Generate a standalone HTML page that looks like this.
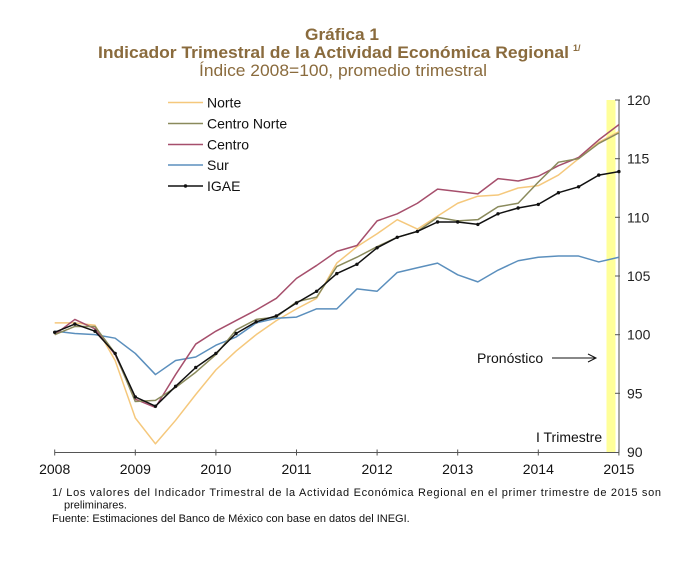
<!DOCTYPE html>
<html>
<head>
<meta charset="utf-8">
<style>
html,body{margin:0;padding:0;background:#fff;}
body{width:700px;height:576px;overflow:hidden;}
svg{display:block;}
</style>
</head>
<body>
<svg width="700" height="576" viewBox="0 0 700 576" xmlns="http://www.w3.org/2000/svg" font-family="'Liberation Sans', Arial, sans-serif">
  <rect width="700" height="576" fill="#fff"/>

  <!-- Titles -->
  <text x="342" y="40" text-anchor="middle" font-size="16.5" font-weight="bold" fill="#8a6b3d" textLength="74" lengthAdjust="spacingAndGlyphs">Gráfica 1</text>
  <text x="98" y="58" font-size="16.5" font-weight="bold" fill="#8a6b3d" textLength="471" lengthAdjust="spacingAndGlyphs">Indicador Trimestral de la Actividad Económica Regional</text>
  <text x="573" y="51" font-size="9" font-weight="bold" fill="#8a6b3d">1/</text>
  <text x="199" y="76" font-size="16.5" fill="#8a6b3d" textLength="288" lengthAdjust="spacingAndGlyphs">Índice 2008=100, promedio trimestral</text>

  <!-- Forecast band -->
  <rect x="606.5" y="100" width="9" height="352" fill="#ffff99"/>

  <!-- Right axis -->
  <line x1="619" y1="100" x2="619" y2="452.5" stroke="#555" stroke-width="1"/>
  <g stroke="#555" stroke-width="1">
    <line x1="615" y1="100" x2="620" y2="100"/>
    <line x1="615" y1="158.7" x2="620" y2="158.7"/>
    <line x1="615" y1="217.3" x2="620" y2="217.3"/>
    <line x1="615" y1="276" x2="620" y2="276"/>
    <line x1="615" y1="334.7" x2="620" y2="334.7"/>
    <line x1="615" y1="393.3" x2="620" y2="393.3"/>
  </g>
  <g font-size="14" fill="#222">
    <text x="627" y="105">120</text>
    <text x="627" y="163.7">115</text>
    <text x="627" y="222.3">110</text>
    <text x="627" y="281">105</text>
    <text x="627" y="339.7">100</text>
    <text x="627" y="398.3">95</text>
    <text x="627" y="457">90</text>
  </g>

  <!-- X axis -->
  <line x1="54.5" y1="452.5" x2="619" y2="452.5" stroke="#555" stroke-width="1"/>
  <g stroke="#555" stroke-width="1">
    <line x1="54.7" y1="449.5" x2="54.7" y2="455.5"/>
    <line x1="135.3" y1="449.5" x2="135.3" y2="455.5"/>
    <line x1="215.9" y1="449.5" x2="215.9" y2="455.5"/>
    <line x1="296.5" y1="449.5" x2="296.5" y2="455.5"/>
    <line x1="377.1" y1="449.5" x2="377.1" y2="455.5"/>
    <line x1="457.7" y1="449.5" x2="457.7" y2="455.5"/>
    <line x1="538.3" y1="449.5" x2="538.3" y2="455.5"/>
    <line x1="618.9" y1="449.5" x2="618.9" y2="455.5"/>
  </g>
  <g font-size="14" fill="#111" text-anchor="middle">
    <text x="54.7" y="474">2008</text>
    <text x="135.3" y="474">2009</text>
    <text x="215.9" y="474">2010</text>
    <text x="296.5" y="474">2011</text>
    <text x="377.1" y="474">2012</text>
    <text x="457.7" y="474">2013</text>
    <text x="538.3" y="474">2014</text>
    <text x="618.9" y="474">2015</text>
  </g>

  <!-- Series (transformed: x = quarter index, y = value) -->
  <g transform="translate(54.7,1508) scale(20.15,-11.7333)" fill="none" stroke-width="1.5" stroke-linejoin="round">
    <polyline vector-effect="non-scaling-stroke" stroke="#f5c87c" points="0,101.0 1,101.0 2,100.8 3,97.8 4,92.9 5,90.7 6,92.7 7,94.9 8,97.0 9,98.6 10,100.0 11,101.2 12,102.2 13,103.1 14,106.1 15,107.5 16,108.6 17,109.8 18,109.0 19,110.1 20,111.2 21,111.8 22,111.9 23,112.5 24,112.7 25,113.6 26,115.0 27,116.4 28,117.3"/>
    <polyline vector-effect="non-scaling-stroke" stroke="#5b8fbd" points="0,100.3 1,100.1 2,100.0 3,99.7 4,98.4 5,96.6 6,97.8 7,98.1 8,99.1 9,99.8 10,101.0 11,101.4 12,101.5 13,102.2 14,102.2 15,103.9 16,103.7 17,105.3 18,105.7 19,106.1 20,105.1 21,104.5 22,105.5 23,106.3 24,106.6 25,106.7 26,106.7 27,106.2 28,106.6"/>
    <polyline vector-effect="non-scaling-stroke" stroke="#a64f6c" points="0,100.0 1,101.3 2,100.5 3,98.3 4,94.5 5,93.8 6,96.6 7,99.2 8,100.3 9,101.2 10,102.1 11,103.1 12,104.8 13,105.9 14,107.1 15,107.6 16,109.7 17,110.3 18,111.2 19,112.4 20,112.2 21,112.0 22,113.3 23,113.1 24,113.5 25,114.4 26,115.1 27,116.6 28,117.9"/>
    <polyline vector-effect="non-scaling-stroke" stroke="#8a8a5c" points="0,100.0 1,100.7 2,100.7 3,98.4 4,94.3 5,94.4 6,95.5 7,96.8 8,98.3 9,100.4 10,101.3 11,101.5 12,102.8 13,103.2 14,105.8 15,106.6 16,107.5 17,108.3 18,108.8 19,110.0 20,109.7 21,109.8 22,110.9 23,111.2 24,113.0 25,114.7 26,115.0 27,116.3 28,117.2"/>
  </g>

  <!-- IGAE -->
  <polyline fill="none" stroke="#111" stroke-width="1.5" stroke-linejoin="round" points="54.7,332.3 74.85,324.1 95,331.2 115.15,353.4 135.3,396.9 155.45,406.2 175.6,386.3 195.75,367.5 215.9,353.4 236.05,333.5 256.2,321.8 276.35,315.9 296.5,303 316.65,291.3 336.8,273.6 356.95,264.3 377.1,247.8 397.25,237.3 417.4,231.4 437.55,222 457.7,222 477.85,224.4 498,213.8 518.15,208 538.3,204.4 558.45,192.7 578.6,186.8 598.75,175.1 618.9,171.6"/>
  <g fill="#111">
    <circle cx="54.7" cy="332.3" r="1.7"/><circle cx="74.85" cy="324.1" r="1.7"/><circle cx="95" cy="331.2" r="1.7"/><circle cx="115.15" cy="353.4" r="1.7"/>
    <circle cx="135.3" cy="396.9" r="1.7"/><circle cx="155.45" cy="406.2" r="1.7"/><circle cx="175.6" cy="386.3" r="1.7"/><circle cx="195.75" cy="367.5" r="1.7"/>
    <circle cx="215.9" cy="353.4" r="1.7"/><circle cx="236.05" cy="333.5" r="1.7"/><circle cx="256.2" cy="321.8" r="1.7"/><circle cx="276.35" cy="315.9" r="1.7"/>
    <circle cx="296.5" cy="303" r="1.7"/><circle cx="316.65" cy="291.3" r="1.7"/><circle cx="336.8" cy="273.6" r="1.7"/><circle cx="356.95" cy="264.3" r="1.7"/>
    <circle cx="377.1" cy="247.8" r="1.7"/><circle cx="397.25" cy="237.3" r="1.7"/><circle cx="417.4" cy="231.4" r="1.7"/><circle cx="437.55" cy="222" r="1.7"/>
    <circle cx="457.7" cy="222" r="1.7"/><circle cx="477.85" cy="224.4" r="1.7"/><circle cx="498" cy="213.8" r="1.7"/><circle cx="518.15" cy="208" r="1.7"/>
    <circle cx="538.3" cy="204.4" r="1.7"/><circle cx="558.45" cy="192.7" r="1.7"/><circle cx="578.6" cy="186.8" r="1.7"/><circle cx="598.75" cy="175.1" r="1.7"/>
    <circle cx="618.9" cy="171.6" r="1.7"/>
  </g>

  <!-- Legend -->
  <g stroke-width="1.5">
    <line x1="168" y1="102.5" x2="203" y2="102.5" stroke="#f5c87c"/>
    <line x1="168" y1="123.5" x2="203" y2="123.5" stroke="#8a8a5c"/>
    <line x1="168" y1="144.5" x2="203" y2="144.5" stroke="#a64f6c"/>
    <line x1="168" y1="165" x2="203" y2="165" stroke="#5b8fbd"/>
    <line x1="168" y1="186" x2="203" y2="186" stroke="#111"/>
  </g>
  <circle cx="185.5" cy="186" r="1.7" fill="#111"/>
  <g font-size="14" fill="#111">
    <text x="207" y="107.5">Norte</text>
    <text x="207" y="128.5">Centro Norte</text>
    <text x="207" y="149.5">Centro</text>
    <text x="207" y="170">Sur</text>
    <text x="207" y="191">IGAE</text>
  </g>

  <!-- Annotations -->
  <text x="477" y="363" font-size="14" fill="#111">Pronóstico</text>
  <line x1="552" y1="358" x2="596" y2="358" stroke="#111" stroke-width="1"/>
  <polyline points="588,354 596,358 588,362" fill="none" stroke="#111" stroke-width="1"/>
  <text x="536" y="442" font-size="14" fill="#111">I Trimestre</text>

  <!-- Footnotes -->
  <g font-size="11" fill="#111">
    <text x="52" y="496" textLength="609" lengthAdjust="spacing">1/ Los valores del Indicador Trimestral de la Actividad Económica Regional en el primer trimestre de 2015 son</text>
    <text x="64" y="508.5">preliminares.</text>
    <text x="52" y="522">Fuente: Estimaciones del Banco de México con base en datos del INEGI.</text>
  </g>
</svg>
</body>
</html>
